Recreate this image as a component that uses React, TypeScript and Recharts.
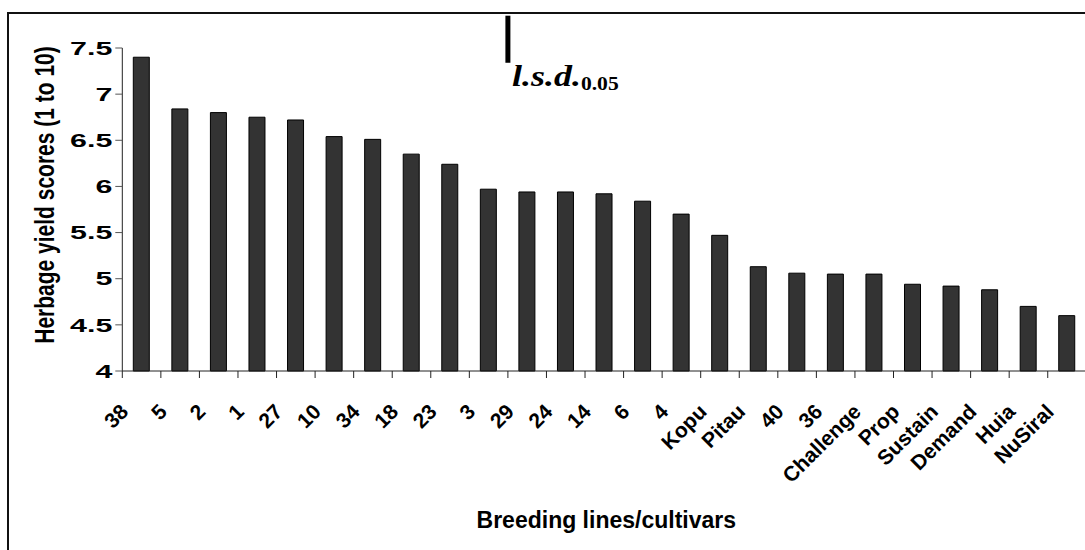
import React from 'react';
import { BarChart, Bar, XAxis, YAxis, ReferenceLine, Label } from 'recharts';

const categories = ['38', '5', '2', '1', '27', '10', '34', '18', '23', '3', '29', '24', '14', '6', '4', 'Kopu', 'Pitau', '40', '36', 'Challenge', 'Prop', 'Sustain', 'Demand', 'Huia', 'NuSiral'];
const yieldScores = [7.40, 6.84, 6.80, 6.75, 6.72, 6.54, 6.51, 6.35, 6.24, 5.97, 5.94, 5.94, 5.92, 5.84, 5.70, 5.47, 5.13, 5.06, 5.05, 5.05, 4.94, 4.92, 4.88, 4.70, 4.60];
const yTicks = [4, 4.5, 5, 5.5, 6, 6.5, 7, 7.5];
const yDomain = [4, 7.5];
const lsdValue = 0.51;
const lsdTop = 7.85;
const lsdCategory = '29'; // l.s.d. bar drawn at the start edge of this category's band

const data = categories.map((c, i) => ({ name: c, score: yieldScores[i] }));

const SANS = "'Liberation Sans', Arial, sans-serif";
const SERIF = "'Liberation Serif', 'Times New Roman', serif";

const CHART_W = 1100;
const CHART_H = 550;
const MARGIN = { top: 48, right: 13.7, bottom: 79, left: 58.3 };
const Y_AXIS_W = 64;
const X_AXIS_H = 100;
const TICK_SIZE = 7;
const TICK_MARGIN = 2;

const XTick = (props: any) => {
  const { x, y, payload, width, visibleTicksCount, index } = props;
  const n = visibleTicksCount || categories.length;
  const plotW = width || CHART_W - MARGIN.left - MARGIN.right - Y_AXIS_W;
  const band = plotW / n;
  const axisY = y - TICK_SIZE - TICK_MARGIN;
  const left = x - band / 2;
  const right = x + band / 2;
  return (
    <g>
      <line x1={left} x2={left} y1={axisY} y2={axisY + TICK_SIZE} stroke="#222" strokeWidth={1} />
      {index === n - 1 && (
        <line x1={right} x2={right} y1={axisY} y2={axisY + TICK_SIZE} stroke="#222" strokeWidth={1} />
      )}
      <text
        transform={`translate(${x - 12},${axisY + 42}) rotate(-45)`}
        textAnchor="end"
        fontFamily={SANS}
        fontWeight="bold"
        fontSize={21}
        fill="#000"
      >
        {payload.value}
      </text>
    </g>
  );
};

const YTick = (props: any) => {
  const { x, y, payload } = props;
  return (
    <text
      transform={`translate(${x},${y}) scale(1.6,1)`}
      textAnchor="end"
      dominantBaseline="central"
      fontFamily={SANS}
      fontWeight="bold"
      fontSize={19}
      fill="#000"
    >
      {payload.value}
    </text>
  );
};

const LsdLabel = (props: any) => {
  const vb = props.viewBox || { x: 0, y: 0, width: 0, height: 0 };
  const tx = vb.x + 4;
  const ty = vb.y + vb.height + 23;
  return (
    <text
      transform={`translate(${tx},${ty}) scale(1.2,1)`}
      fontFamily={SERIF}
      fontWeight="bold"
      fontStyle="italic"
      fontSize={30}
      fill="#000"
    >
      l.s.d.
      <tspan fontStyle="normal" fontSize={18} dy={4}>0.05</tspan>
    </text>
  );
};

export default function App() {
  return (
    <div style={{ position: 'absolute', left: 0, top: 0, width: 1085, height: 550, overflow: 'hidden', background: '#fff' }}>
      <div
        style={{
          position: 'absolute',
          left: 7,
          top: 12,
          width: 2000,
          height: 2000,
          border: '2px solid #111',
          boxSizing: 'border-box',
        }}
      />
      <div style={{ position: 'absolute', left: 0, top: 0 }}>
        <BarChart width={CHART_W} height={CHART_H} data={data} margin={MARGIN}>
          <XAxis
            dataKey="name"
            type="category"
            height={X_AXIS_H}
            interval={0}
            tickLine={false}
            tickSize={TICK_SIZE}
            tickMargin={TICK_MARGIN}
            axisLine={{ stroke: '#222', strokeWidth: 1 }}
            tick={<XTick />}
          >
            <Label
              content={(p: any) => {
                const vb = p.viewBox || { x: 0, y: 0, width: 0 };
                return (
                  <text
                    x={vb.x + vb.width / 2 + 2}
                    y={528}
                    textAnchor="middle"
                    fontFamily={SANS}
                    fontWeight="bold"
                    fontSize={23}
                    fill="#000"
                  >
                    Breeding lines/cultivars
                  </text>
                );
              }}
            />
          </XAxis>
          <YAxis
            domain={yDomain}
            ticks={yTicks}
            width={Y_AXIS_W}
            interval={0}
            tickSize={TICK_SIZE}
            tickMargin={3}
            axisLine={{ stroke: '#222', strokeWidth: 1 }}
            tickLine={{ stroke: '#555', strokeWidth: 1 }}
            tick={<YTick />}
          >
            <Label
              content={() => (
                <text
                  transform="translate(44,195) scale(1.35,1) rotate(-90)"
                  textAnchor="middle"
                  dominantBaseline="central"
                  fontFamily={SANS}
                  fontWeight="bold"
                  fontSize={21}
                  fill="#000"
                >
                  Herbage yield scores (1 to 10)
                </text>
              )}
            />
          </YAxis>
          <Bar
            dataKey="score"
            fill="#333333"
            stroke="#000"
            strokeWidth={1}
            barSize={16}
            isAnimationActive={false}
          />
          <ReferenceLine
            segment={[
              { x: lsdCategory, y: lsdTop },
              { x: lsdCategory, y: lsdTop - lsdValue },
            ]}
            position="start"
            stroke="#000"
            strokeWidth={5}
            ifOverflow="visible"
            label={(p: any) => <LsdLabel {...p} />}
          />
        </BarChart>
      </div>
    </div>
  );
}
